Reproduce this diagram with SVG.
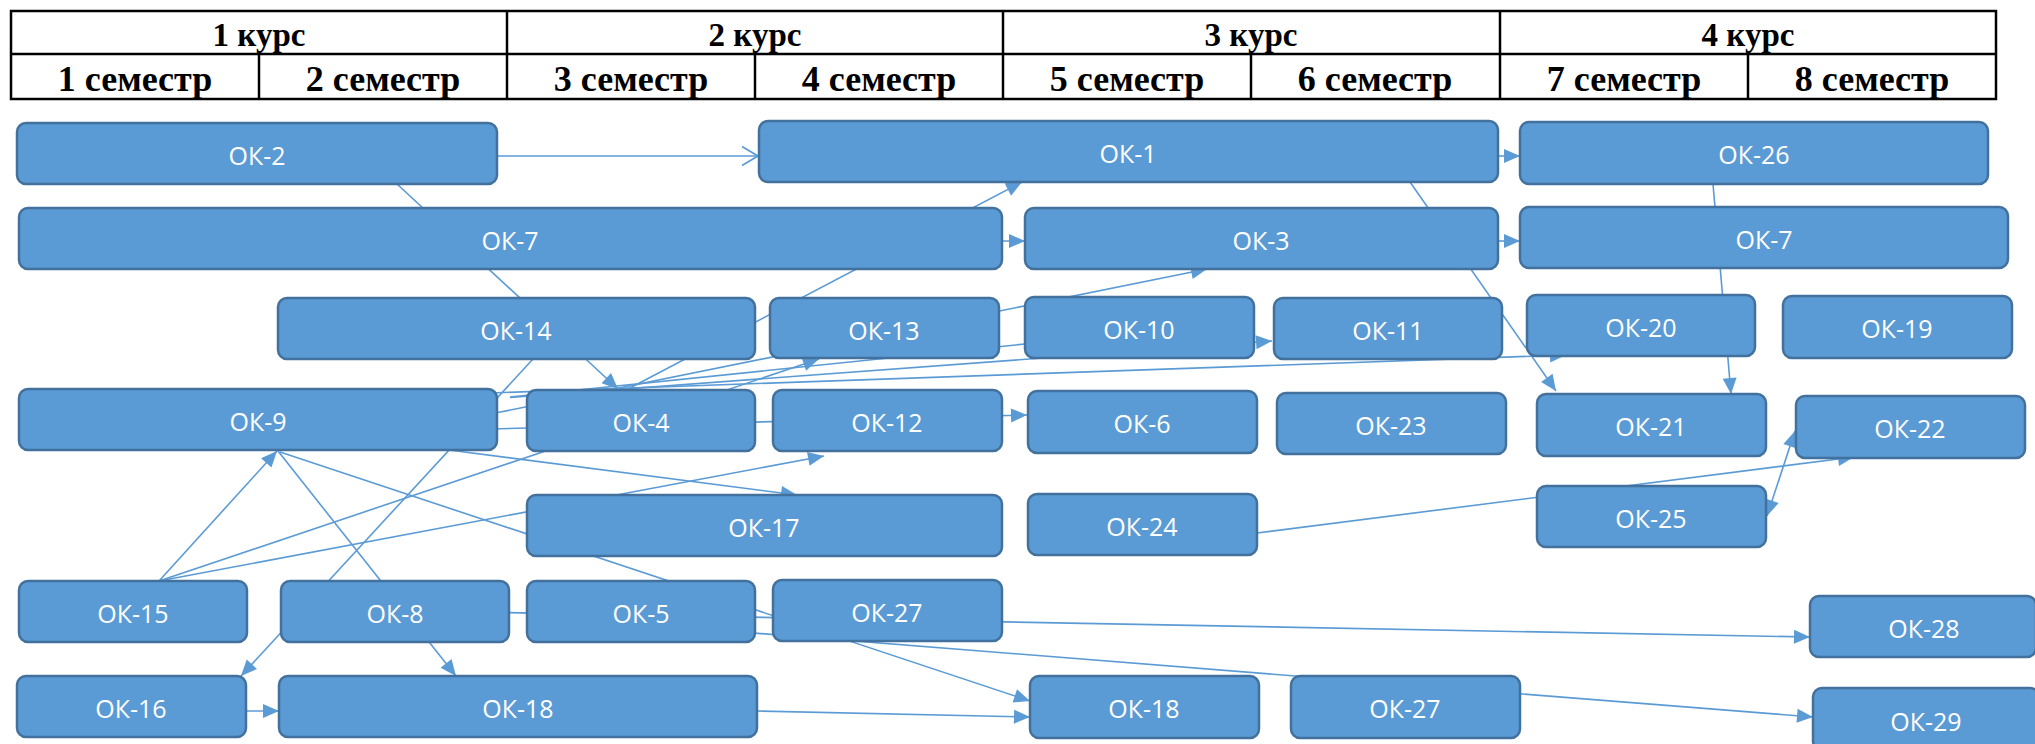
<svg xmlns="http://www.w3.org/2000/svg" width="2035" height="744" viewBox="0 0 2035 744">
<defs>
<style>
.hdr{font-family:"Liberation Serif","Times New Roman",serif;font-weight:bold;font-size:36px;fill:#000;text-anchor:middle}
.hc{font-size:33px}
.tl{stroke:#000;stroke-width:2.5;fill:none}
.nd rect{fill:#5B9BD5;stroke:#41719C;stroke-width:2.5}
.nd text{font-family:"Open Sans","Liberation Sans",sans-serif;font-size:25px;fill:#fff;text-anchor:middle}
.cn{stroke:#5B9BD5;stroke-width:1.6;fill:none}
.ar{marker-end:url(#ah)}
</style>
<marker id="ah" markerUnits="userSpaceOnUse" markerWidth="17" markerHeight="15" refX="16" refY="7" orient="auto" overflow="visible">
<path d="M0,0 L16,7 L0,14 z" fill="#5B9BD5"/>
</marker>
<marker id="ahs" markerUnits="userSpaceOnUse" markerWidth="17" markerHeight="15" refX="16" refY="7" orient="auto-start-reverse" overflow="visible">
<path d="M0,0 L16,7 L0,14 z" fill="#5B9BD5"/>
</marker>
<marker id="oa" markerUnits="userSpaceOnUse" markerWidth="18" markerHeight="22" refX="16" refY="10" orient="auto" overflow="visible">
<path d="M0,0.5 L16,10 L0,19.5" fill="none" stroke="#5B9BD5" stroke-width="1.8"/>
</marker>
</defs>
<rect width="2035" height="744" fill="#fff"/>

<g id="table">
<rect class="tl" x="11" y="11" width="1985" height="88"/>
<line class="tl" x1="11" y1="54" x2="1996" y2="54"/>
<line class="tl" x1="507" y1="11" x2="507" y2="99"/>
<line class="tl" x1="1003" y1="11" x2="1003" y2="99"/>
<line class="tl" x1="1500" y1="11" x2="1500" y2="99"/>
<line class="tl" x1="259" y1="54" x2="259" y2="99"/>
<line class="tl" x1="755" y1="54" x2="755" y2="99"/>
<line class="tl" x1="1251" y1="54" x2="1251" y2="99"/>
<line class="tl" x1="1748" y1="54" x2="1748" y2="99"/>
<text class="hdr hc" x="259" y="46">1 курс</text>
<text class="hdr hc" x="755" y="46">2 курс</text>
<text class="hdr hc" x="1251" y="46">3 курс</text>
<text class="hdr hc" x="1748" y="46">4 курс</text>
<text class="hdr" x="135" y="91">1 семестр</text>
<text class="hdr" x="383" y="91">2 семестр</text>
<text class="hdr" x="631" y="91">3 семестр</text>
<text class="hdr" x="879" y="91">4 семестр</text>
<text class="hdr" x="1127" y="91">5 семестр</text>
<text class="hdr" x="1375" y="91">6 семестр</text>
<text class="hdr" x="1624" y="91">7 семестр</text>
<text class="hdr" x="1872" y="91">8 семестр</text>
</g>

<g id="connectors">
<path class="cn" marker-end="url(#oa)" d="M497,156 L758,156"/>
<path class="cn ar" d="M397,184 L618,389"/>
<path class="cn ar" d="M628,389 L1022,182"/>
<path class="cn ar" d="M990,241 L1025,241"/>
<path class="cn ar" d="M1490,156 L1520,156"/>
<path class="cn ar" d="M1490,241 L1520,241"/>
<path class="cn ar" d="M1410,182 L1556,391"/>
<path class="cn ar" d="M1713,184 L1731,394"/>
<path class="cn ar" d="M498,412.5 L1207,269"/>
<path class="cn" d="M510,397 L1025,344"/>
<path class="cn ar" d="M510,397.5 L1272,341"/>
<path class="cn ar" d="M490,393 L1566,355"/>
<path class="cn ar" d="M490,429 L1027,415"/>
<path class="cn ar" d="M159,581 L277,451"/>
<path class="cn ar" d="M159,581 L819,359"/>
<path class="cn ar" d="M159,581 L824,456"/>
<path class="cn ar" d="M533,359 L241,676"/>
<path class="cn ar" d="M278,451 L456,676"/>
<path class="cn ar" d="M280,452 L1030,701"/>
<path class="cn ar" d="M449,450 L797,495"/>
<path class="cn ar" d="M395,610.5 L1810,637"/>
<path class="cn ar" d="M640,624 L1813,717"/>
<path class="cn ar" d="M246,711 L279,711"/>
<path class="cn ar" d="M757,711 L1030,717"/>
<path class="cn ar" d="M1257,533 L1854,457"/>
<path class="cn" marker-start="url(#ahs)" marker-end="url(#ah)" d="M1767,516 L1795,431"/>
</g>

<g id="n-ok2" class="nd"><rect x="17" y="123" width="480" height="61" rx="9"/><text x="257" y="165">ОК-2</text></g>
<g id="n-ok1" class="nd"><rect x="759" y="121" width="739" height="61" rx="9"/><text x="1128" y="163">ОК-1</text></g>
<g id="n-ok26" class="nd"><rect x="1520" y="122" width="468" height="62" rx="9"/><text x="1754" y="164">ОК-26</text></g>
<g id="n-ok7a" class="nd"><rect x="19" y="208" width="983" height="61" rx="9"/><text x="510" y="250">ОК-7</text></g>
<g id="n-ok3" class="nd"><rect x="1025" y="208" width="473" height="61" rx="9"/><text x="1261" y="250">ОК-3</text></g>
<g id="n-ok7b" class="nd"><rect x="1520" y="207" width="488" height="61" rx="9"/><text x="1764" y="249">ОК-7</text></g>
<g id="n-ok14" class="nd"><rect x="278" y="298" width="477" height="61" rx="9"/><text x="516" y="340">ОК-14</text></g>
<g id="n-ok13" class="nd"><rect x="770" y="298" width="229" height="60" rx="9"/><text x="884" y="340">ОК-13</text></g>
<g id="n-ok10" class="nd"><rect x="1025" y="297" width="229" height="61" rx="9"/><text x="1139" y="339">ОК-10</text></g>
<g id="n-ok11" class="nd"><rect x="1274" y="298" width="228" height="61" rx="9"/><text x="1388" y="340">ОК-11</text></g>
<g id="n-ok20" class="nd"><rect x="1527" y="295" width="228" height="61" rx="9"/><text x="1641" y="337">ОК-20</text></g>
<g id="n-ok19" class="nd"><rect x="1783" y="296" width="229" height="62" rx="9"/><text x="1897" y="338">ОК-19</text></g>
<g id="n-ok9" class="nd"><rect x="19" y="389" width="478" height="61" rx="9"/><text x="258" y="431">ОК-9</text></g>
<g id="n-ok4" class="nd"><rect x="527" y="390" width="228" height="61" rx="9"/><text x="641" y="432">ОК-4</text></g>
<g id="n-ok12" class="nd"><rect x="773" y="390" width="229" height="61" rx="9"/><text x="887" y="432">ОК-12</text></g>
<g id="n-ok6" class="nd"><rect x="1028" y="391" width="229" height="62" rx="9"/><text x="1142" y="433">ОК-6</text></g>
<g id="n-ok23" class="nd"><rect x="1277" y="393" width="229" height="61" rx="9"/><text x="1391" y="435">ОК-23</text></g>
<g id="n-ok21" class="nd"><rect x="1537" y="394" width="229" height="62" rx="9"/><text x="1651" y="436">ОК-21</text></g>
<g id="n-ok22" class="nd"><rect x="1796" y="396" width="229" height="62" rx="9"/><text x="1910" y="438">ОК-22</text></g>
<g id="n-ok17" class="nd"><rect x="527" y="495" width="475" height="61" rx="9"/><text x="764" y="537">ОК-17</text></g>
<g id="n-ok24" class="nd"><rect x="1028" y="494" width="229" height="61" rx="9"/><text x="1142" y="536">ОК-24</text></g>
<g id="n-ok25" class="nd"><rect x="1537" y="486" width="229" height="61" rx="9"/><text x="1651" y="528">ОК-25</text></g>
<g id="n-ok15" class="nd"><rect x="19" y="581" width="228" height="61" rx="9"/><text x="133" y="623">ОК-15</text></g>
<g id="n-ok8" class="nd"><rect x="281" y="581" width="228" height="61" rx="9"/><text x="395" y="623">ОК-8</text></g>
<g id="n-ok5" class="nd"><rect x="527" y="581" width="228" height="61" rx="9"/><text x="641" y="623">ОК-5</text></g>
<g id="n-ok27a" class="nd"><rect x="773" y="580" width="229" height="61" rx="9"/><text x="887" y="622">ОК-27</text></g>
<g id="n-ok28" class="nd"><rect x="1810" y="596" width="226" height="61" rx="9"/><text x="1924" y="638">ОК-28</text></g>
<g id="n-ok16" class="nd"><rect x="17" y="676" width="229" height="61" rx="9"/><text x="131" y="718">ОК-16</text></g>
<g id="n-ok18a" class="nd"><rect x="279" y="676" width="478" height="61" rx="9"/><text x="518" y="718">ОК-18</text></g>
<g id="n-ok18b" class="nd"><rect x="1030" y="676" width="229" height="62" rx="9"/><text x="1144" y="718">ОК-18</text></g>
<g id="n-ok27b" class="nd"><rect x="1291" y="676" width="229" height="62" rx="9"/><text x="1405" y="718">ОК-27</text></g>
<g id="n-ok29" class="nd"><rect x="1813" y="688" width="226" height="62" rx="9"/><text x="1926" y="731">ОК-29</text></g>
</svg>
